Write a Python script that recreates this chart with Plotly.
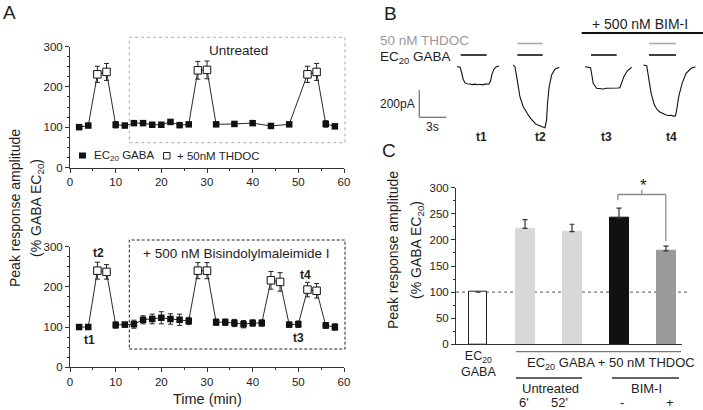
import plotly.graph_objects as go

# ---------------- data ----------------
# Panel A (top): untreated
time_top = [2, 4, 6, 8, 10, 12, 14, 16, 18, 20, 22, 24, 26, 28, 30, 32, 36, 40, 44, 48, 52, 54, 56, 58]
mean_top = [100, 104, 231, 237, 106, 104, 110, 110, 106, 106, 113, 105, 107, 241, 242, 107, 108, 110, 103, 107, 231, 237, 108, 102]
sem_top = [3, 3, 20, 21, 8, 5, 5, 4, 3, 3, 5, 3, 3, 22, 22, 3, 3, 3, 3, 3, 20, 21, 8, 5]
thdoc_top = [0, 0, 1, 1, 0, 0, 0, 0, 0, 0, 0, 0, 0, 1, 1, 0, 0, 0, 0, 0, 1, 1, 0, 0]

# Panel A (bottom): + 500 nM Bisindolylmaleimide I
time_bot = [2, 4, 6, 8, 10, 12, 14, 16, 18, 20, 22, 24, 26, 28, 30, 32, 34, 36, 38, 40, 42, 44, 46, 48, 50, 52, 54, 56, 58]
mean_bot = [100, 100, 240, 237, 105, 106, 107, 118, 120, 123, 120, 118, 115, 240, 240, 112, 112, 110, 107, 110, 110, 216, 212, 106, 107, 193, 190, 104, 100]
sem_bot = [2, 2, 21, 18, 8, 6, 10, 10, 12, 15, 13, 14, 9, 20, 20, 8, 8, 9, 9, 8, 8, 22, 23, 6, 8, 18, 18, 7, 8]
thdoc_bot = [0, 0, 1, 1, 0, 0, 0, 0, 0, 0, 0, 0, 0, 1, 1, 0, 0, 0, 0, 0, 0, 1, 1, 0, 0, 1, 1, 0, 0]

# Panel B: current traces (time in s from trace start, current in pA)
t1_time = [0, 0.33, 0.5, 0.67, 0.89, 1.1, 1.44, 1.7, 2.0, 2.3, 2.56, 2.8, 3.11, 3.35, 3.56, 3.72, 3.89, 4.11, 4.33, 4.67]
t1_pA = [0, -2, -39, -90, -119, -125, -127, -131, -128, -132, -129, -133, -128, -130, -127, -105, -54, -17, -2, 5]
t2_time = [0, 0.19, 0.44, 0.74, 1.11, 1.4, 1.67, 1.95, 2.22, 2.5, 2.75, 2.96, 3.2, 3.35, 3.52, 3.70, 3.81, 3.99, 4.26, 4.63, 5.11]
t2_pA = [12, 0, -97, -220, -293, -330, -354, -380, -403, -420, -428, -435, -440, -444, -447, -391, -266, -147, -61, -19, -4]
t3_time = [0, 0.63, 0.74, 0.92, 1.30, 1.6, 2.03, 2.4, 2.78, 3.1, 3.4, 3.65, 3.89, 4.08, 4.33, 4.70, 5.19]
t3_pA = [0, -7, -48, -122, -158, -162, -163, -158, -158, -155, -160, -156, -154, -122, -73, -32, -4]
t4_time = [0, 0.37, 0.56, 0.86, 1.22, 1.5, 1.78, 2.1, 2.52, 2.8, 3.1, 3.35, 3.56, 3.70, 3.92, 4.30, 4.74, 5.30, 5.78]
t4_pA = [12, 7, -73, -195, -281, -312, -330, -343, -354, -358, -356, -362, -361, -317, -220, -122, -48, -12, 0]
trace_labels = ["t1", "t2", "t3", "t4"]

# Panel C
c_categories = ["EC20 GABA", "Untreated 6'", "Untreated 52'", "BIM-I -", "BIM-I +"]
c_values = [100, 222, 216, 242, 179]
c_sem = [0, 17, 14, 19, 9]

# ---------------- layout helpers ----------------
W, H = 703, 410
FONT = "Liberation Sans, Arial, Helvetica, sans-serif"
INK = "#1e1e1e"


def px(x):
    return x / W


def py(y):
    return 1 - y / H


fig = go.Figure()

# ---- Panel A traces ----
for times, means, sems, flags, xa, ya in [
    (time_top, mean_top, sem_top, thdoc_top, "x", "y"),
    (time_bot, mean_bot, sem_bot, thdoc_bot, "x2", "y2"),
]:
    fig.add_trace(go.Scatter(x=times, y=means, mode="lines", line=dict(color="#111", width=0.9),
                             xaxis=xa, yaxis=ya, showlegend=False, hoverinfo="skip", cliponaxis=False))
    gx = [t for t, f in zip(times, flags) if not f]
    gy = [m for m, f in zip(means, flags) if not f]
    ge = [s for s, f in zip(sems, flags) if not f]
    tx = [t for t, f in zip(times, flags) if f]
    ty = [m for m, f in zip(means, flags) if f]
    te = [s for s, f in zip(sems, flags) if f]
    fig.add_trace(go.Scatter(x=gx, y=gy, mode="markers", xaxis=xa, yaxis=ya, showlegend=False, cliponaxis=False,
                             marker=dict(symbol="square", size=6.5, color="#111", line=dict(width=0)),
                             error_y=dict(type="data", array=ge, color="#222", thickness=1, width=2.5)))
    fig.add_trace(go.Scatter(x=tx, y=ty, mode="markers", xaxis=xa, yaxis=ya, showlegend=False, cliponaxis=False,
                             marker=dict(symbol="square", size=7.5, color="white", line=dict(width=1, color="#111")),
                             error_y=dict(type="data", array=te, color="#222", thickness=1, width=2.5)))

# ---- Panel B traces ----
trace_start = [8.89, 15.14, 23.1, 29.6]
for t0, tt, cc in zip(trace_start, [t1_time, t2_time, t3_time, t4_time], [t1_pA, t2_pA, t3_pA, t4_pA]):
    fig.add_trace(go.Scatter(x=[t0 + v for v in tt], y=cc, mode="lines", line=dict(color="#111", width=1.1),
                             xaxis="x4", yaxis="y4", showlegend=False, hoverinfo="skip", cliponaxis=False))

# ---- Panel C bars ----
fig.add_trace(go.Bar(
    x=c_categories, y=c_values, width=0.404, xaxis="x3", yaxis="y3", showlegend=False,
    marker=dict(color=["white", "#d8d8d8", "#d8d8d8", "#111111", "#9a9a9a"],
                line=dict(color=["#222", "#d8d8d8", "#d8d8d8", "#111111", "#9a9a9a"], width=1)),
    error_y=dict(type="data", symmetric=False, array=c_sem, arrayminus=[0] * len(c_sem),
                 color="#333", thickness=1.2, width=2.5),
))

axis_common = dict(showline=True, linecolor="#333", linewidth=1, ticks="outside", ticklen=4, tickwidth=1,
                   tickcolor="#333", showgrid=False, zeroline=False, automargin=False,
                   tickfont=dict(size=11.5, color="#222", family=FONT))

xA = dict(axis_common, range=[0, 60], dtick=10, tick0=0,
          minor=dict(dtick=5, ticks="outside", ticklen=2, tickcolor="#333"))
yA = dict(axis_common, range=[0, 300], dtick=100, tick0=0,
          minor=dict(dtick=25, ticks="outside", ticklen=2, tickcolor="#333"))

fig.update_layout(
    width=W, height=H, margin=dict(l=0, r=0, t=0, b=0), template="none",
    paper_bgcolor="white", plot_bgcolor="rgba(0,0,0,0)",
    font=dict(family=FONT, color=INK),
    xaxis=dict(xA, domain=[px(70), px(344)], anchor="y"),
    yaxis=dict(yA, domain=[py(167.5), py(46.5)], anchor="x"),
    xaxis2=dict(xA, domain=[px(70), px(344)], anchor="y2"),
    yaxis2=dict(yA, domain=[py(367.3), py(246.5)], anchor="x2"),
    xaxis3=dict(axis_common, type="category", categoryorder="array", categoryarray=c_categories,
                range=[-0.468, 4.34], ticks="", showticklabels=False, domain=[px(456), px(682)], anchor="y3"),
    yaxis3=dict(axis_common, range=[0, 300], dtick=50, tick0=0, domain=[py(344.3), py(187.7)], anchor="x3",
                minor=dict(dtick=25, ticks="outside", ticklen=2, tickcolor="#333")),
    xaxis4=dict(range=[0, 326 / 9], domain=[px(377), px(703)], anchor="y4", visible=False),
    yaxis4=dict(range=[-537, 342], domain=[py(140), py(20)], anchor="x4", visible=False),
    bargap=0,
)

shapes = []
ann = []


def txt(x, y, s, size=12, color=INK, xanchor="center", yanchor="middle", angle=0, bold=False):
    if bold:
        s = "<b>" + s + "</b>"
    ann.append(dict(x=px(x), y=py(y), xref="paper", yref="paper", text=s, showarrow=False,
                    xanchor=xanchor, yanchor=yanchor, textangle=angle,
                    font=dict(size=size, color=color, family=FONT)))


def hline(x0, x1, y, color="#111", width=1.5, dash=None):
    shapes.append(dict(type="line", xref="paper", yref="paper", x0=px(x0), x1=px(x1), y0=py(y), y1=py(y),
                       line=dict(color=color, width=width, dash=dash)))


# Panel letters
txt(9, 12, "A", size=19)
txt(390, 13, "B", size=19)
txt(389, 150, "C", size=19)

# Panel A boxes
shapes.append(dict(type="rect", xref="paper", yref="paper", x0=px(129.3), x1=px(345), y0=py(142.7), y1=py(37.3),
                   line=dict(color="#aaa", width=1, dash="dot")))
shapes.append(dict(type="rect", xref="paper", yref="paper", x0=px(129.3), x1=px(345), y0=py(349), y1=py(240),
                   line=dict(color="#222", width=1, dash="3px,2px")))
ann.append(dict(x=37, y=291, xref="x", yref="y", text="Untreated", showarrow=False,
                font=dict(size=13.5, color=INK, family=FONT)))
ann.append(dict(x=36.4, y=283, xref="x2", yref="y2", text="+ 500 nM Bisindolylmaleimide I", showarrow=False,
                font=dict(size=13.5, color=INK, family=FONT)))
for (lx, ly, lab) in [(4.2, 69, "t1"), (6.3, 283, "t2"), (50.1, 73, "t3"), (51.5, 230, "t4")]:
    ann.append(dict(x=lx, y=ly, xref="x2", yref="y2", text="<b>" + lab + "</b>", showarrow=False,
                    font=dict(size=12, color=INK, family=FONT)))

# Panel A legend
shapes.append(dict(type="rect", xref="paper", yref="paper", x0=px(79), x1=px(86), y0=py(158.5), y1=py(152.5),
                   line=dict(width=0), fillcolor="#111"))
txt(92, 155.5, "EC<sub>20</sub> GABA", size=11.5, xanchor="left")
shapes.append(dict(type="rect", xref="paper", yref="paper", x0=px(163.5), x1=px(170), y0=py(159), y1=py(152.5),
                   line=dict(width=1, color="#222"), fillcolor="white"))
txt(174.5, 155.5, "+ 50nM THDOC", size=11.5, xanchor="left")

# Panel A axis titles
txt(15, 208, "Peak response amplitude", size=14, angle=-90)
txt(37, 208, "(% GABA EC<sub>20</sub>)", size=14, angle=-90)
txt(207, 399, "Time (min)", size=14.5)

# Panel B labels and application bars
txt(378, 40.5, "50 nM THDOC", size=13.5, color="#999", xanchor="left")
txt(378, 57, "EC<sub>20</sub> GABA", size=13.5, xanchor="left")
txt(640, 24, "+ 500 nM BIM-I", size=14)
hline(581.7, 703, 33, color="#111", width=2.2)
for (a, b) in [(460.7, 486.7), (517.3, 542.7), (591, 616.7), (649, 676)]:
    hline(a, b, 55, color="#111", width=1.6)
for (a, b) in [(517.3, 542.7), (649, 676)]:
    hline(a, b, 43.5, color="#aaa", width=1.6)
for xl, lab in zip([481.7, 540, 606.7, 671.7], trace_labels):
    txt(xl, 137, lab, size=12, bold=True)
# scale bar: 3 s x 200 pA, drawn in trace units
sb_t, sb_i = 4.7, -371
shapes.append(dict(type="line", xref="x4", yref="y4", x0=sb_t, x1=sb_t, y0=sb_i, y1=sb_i + 200,
                   line=dict(color="#777", width=1.3)))
shapes.append(dict(type="line", xref="x4", yref="y4", x0=sb_t, x1=sb_t + 3, y0=sb_i, y1=sb_i,
                   line=dict(color="#777", width=1.3)))
txt(417, 104, "200pA", size=12, xanchor="right")
txt(432, 127, "3s", size=12)

# Panel C extras
shapes.append(dict(type="line", xref="paper", yref="y3", x0=px(456), x1=px(688), y0=100, y1=100,
                   line=dict(color="#555", width=1, dash="dot"), layer="below"))
br = "#8a8a8a"
for (x0, x1, y0, y1) in [(2.975, 2.975, 276, 287), (2.975, 3.995, 287, 287), (3.995, 3.995, 287, 198),
                         (3.485, 3.485, 287, 296)]:
    shapes.append(dict(type="line", xref="x3", yref="y3", x0=x0, x1=x1, y0=y0, y1=y1,
                       line=dict(color=br, width=1.3)))
txt(643.5, 186, "*", size=17, color="#222")
txt(393, 250, "Peak response amplitude", size=14, angle=-90)
txt(417, 250, "(% GABA EC<sub>20</sub>)", size=14, angle=-90)
txt(478, 364, "EC<sub>20</sub><br>GABA", size=12.5)
hline(516, 681, 351.7, color="#555", width=1)
txt(611, 363, "EC<sub>20</sub> GABA + 50 nM THDOC", size=13)
hline(516, 582, 378, color="#333", width=1.3)
hline(612, 679, 378, color="#333", width=1.3)
txt(550, 388.5, "Untreated", size=13)
txt(646, 388.5, "BIM-I", size=13)
for xl, lab in [(524, "6'"), (559, "52'"), (622, "-"), (670, "+")]:
    txt(xl, 402, lab, size=13)

fig.update_layout(shapes=shapes, annotations=ann)

fig.write_html("out.html", config={"displayModeBar": False},
               post_script="document.body.style.margin='0';document.body.style.overflow='hidden';")
